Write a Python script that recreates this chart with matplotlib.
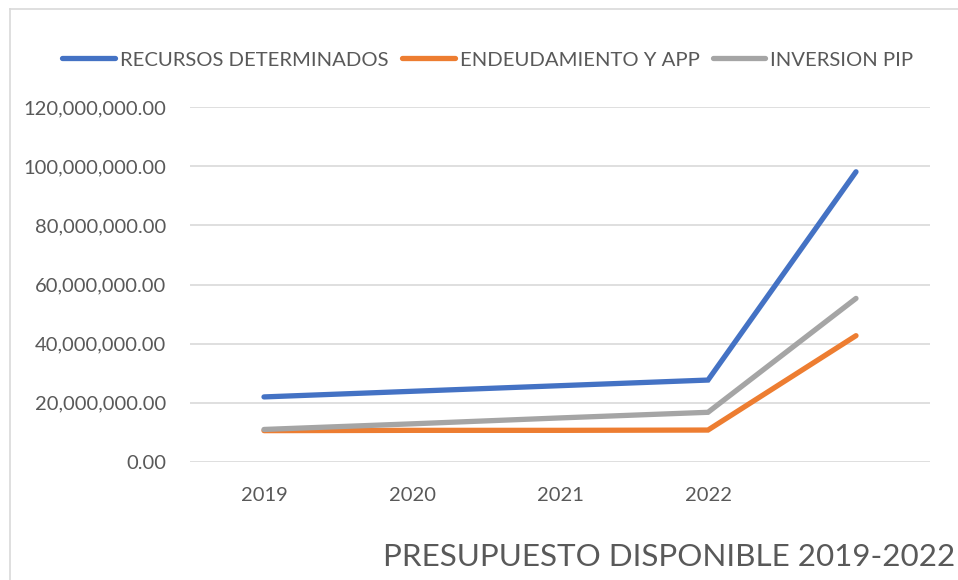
import matplotlib
matplotlib.use('Agg')
import matplotlib.pyplot as plt
from matplotlib.ticker import FuncFormatter
from matplotlib.lines import Line2D

# data (the 5th category has no label)
categories = ['2019', '2020', '2021', '2022', '']
recursos = [22.0e6, 23.9e6, 25.8e6, 27.7e6, 98.1e6]
endeudamiento = [10.6e6, 10.7e6, 10.7e6, 10.8e6, 42.7e6]
inversion = [11.0e6, 12.9e6, 14.9e6, 16.8e6, 55.3e6]
series_names = ['RECURSOS DETERMINADOS', 'ENDEUDAMIENTO Y APP', 'INVERSION PIP']
colors = ['#4472C4', '#ED7D31', '#A5A5A5']

plt.rcParams['font.family'] = ['Lato', 'DejaVu Sans']
text_color = '#595959'

fig = plt.figure(figsize=(9.58, 5.8), dpi=100)
ax = fig.add_axes([190/958, 118/580, 740/958, 355/580])

x = list(range(len(categories)))
for vals, c, name in zip([recursos, endeudamiento, inversion], colors, series_names):
    ax.plot(x, vals, color=c, lw=3.8, solid_capstyle='round',
            solid_joinstyle='miter', label=name, zorder=3)

ax.set_xlim(-0.5, len(categories) - 0.5)
ax.set_ylim(0, 120e6)
ax.set_yticks([0, 20e6, 40e6, 60e6, 80e6, 100e6, 120e6])
ax.yaxis.set_major_formatter(FuncFormatter(lambda v, p: f'{v:,.2f}'))
ax.set_xticks(x)
ax.set_xticklabels(categories)
ax.grid(axis='y', color='#d9d9d9', lw=1.2)
ax.set_axisbelow(True)
for s in ax.spines.values():
    s.set_visible(False)
ax.tick_params(axis='both', length=0, labelsize=14.5, labelcolor=text_color)
ax.tick_params(axis='y', pad=17)
ax.tick_params(axis='x', pad=18)

# legend on top
handles = [Line2D([0], [0], color=c, lw=3.8, solid_capstyle='round') for c in colors]
fig.legend(handles, series_names, loc='center', bbox_to_anchor=(488/958, 1 - 60/580),
           ncol=3, frameon=False, fontsize=14.6, labelcolor=text_color,
           handlelength=2.6, handletextpad=0.25, columnspacing=0.65)

# title at the bottom right
fig.text(955/958, 1 - 557/580, 'PRESUPUESTO DISPONIBLE 2019-2022', ha='right', va='center',
         fontsize=22.6, color=text_color)

# chart border (left and top)
fig.add_artist(Line2D([10/958, 10/958], [0, 1 - 9/580], color='#d9d9d9', lw=1.2))
fig.add_artist(Line2D([10/958, 1], [1 - 9/580, 1 - 9/580], color='#d9d9d9', lw=1.2))

fig.savefig('out.png', dpi=100)
